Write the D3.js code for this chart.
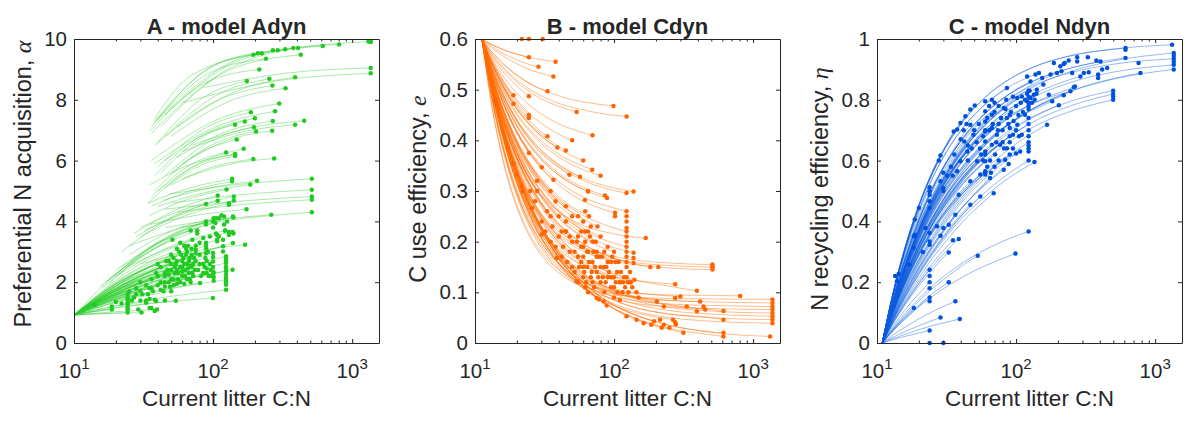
<!DOCTYPE html>
<html>
<head>
<meta charset="utf-8">
<script src="https://cdn.jsdelivr.net/npm/d3@7/dist/d3.min.js"></script>
<style>
  body { margin: 0; background: #fff; }
  svg text { font-family: "Liberation Sans", Arial, Helvetica, sans-serif; fill: #262626; }
</style>
</head>
<body>
<svg id="chart" width="1200" height="425"></svg>
<script>
// ---- shared axis values ----
const xDomain = [10, 1560];
const xTickValues = [10, 100, 1000];
const xTickExponents = ['1', '2', '3'];
const xMinorTicks = [20, 30, 40, 50, 60, 70, 80, 90, 200, 300, 400, 500, 600, 700, 800, 900];

const titles = ['A - model Adyn', 'B - model Cdyn', 'C - model Ndyn'];
const yLabels = [['Preferential N acquisition, ', 'α'], ['C use efficiency, ', 'e'], ['N recycling efficiency, ', 'η']];

const adynYTicks = [0, 2, 4, 6, 8, 10];
const cdynYTicks = [0, 0.1, 0.2, 0.3, 0.4, 0.5, 0.6];
const ndynYTicks = [0, 0.2, 0.4, 0.6, 0.8, 1];

// ---- panel A: trajectories [x, alpha] (initial C:N -> current C:N) ----
const adynCurves = [
  [[37.7,7.35],[57.9,8.5],[100,9.15],[195,9.48],[400,9.72],[1360,9.92]],
  [[38,7.25],[95.5,8.9],[240,9.35]],
  [[35,6.96],[86.7,8.55],[215,9.0]],
  [[42,7.1],[134,9.0],[427,9.48]],
  [[38,7.3],[105,9.16],[292,9.63]],
  [[40,7.35],[180,9.45],[806,9.82]],
  [[45,7.5],[166,9.35],[615,9.77]],
  [[36,7.1],[87,8.95],[210,9.53]],
  [[85,8.4],[340,8.88],[1360,9.05]],
  [[60,7.9],[286,8.62],[1360,8.87]],
  [[40,6.6],[83.7,8.05],[175,8.62]],
  [[45,6.8],[107,8.16],[254,8.69]],
  [[55,7.1],[146,8.28],[389,8.74]],
  [[38,6.5],[100.7,7.92],[267,8.47]],
  [[50,6.8],[129,7.94],[332,8.38]],
  [[36,6.9],[116.5,8.9],[377,9.7]],
  [[36,6.0],[104,7.32],[299,7.88]],
  [[38,5.9],[103,7.1],[279,7.62]],
  [[40,5.8],[86.5,7.05],[187,7.59]],
  [[45,6.0],[95,6.97],[200,7.39]],
  [[42,5.6],[84,6.78],[169,7.29]],
  [[38,5.5],[74,6.68],[144,7.18]],
  [[55,6.1],[121.6,6.94],[269,7.3]],
  [[60,6.3],[153,6.92],[389,7.18]],
  [[70,6.5],[178,7.07],[452,7.31]],
  [[45,5.5],[94,6.62],[197,7.1]],
  [[50,5.6],[101,6.55],[204,6.96]],
  [[60,5.9],[126,6.66],[266,6.98]],
  [[38,5.0],[75,6.18],[148,6.69]],
  [[34,4.6],[75,5.85],[166,6.39]],
  [[36,4.8],[66.8,5.83],[124,6.27]],
  [[40,5.0],[75.9,5.85],[144,6.22]],
  [[45,5.1],[80.5,5.83],[144,6.15]],
  [[50,5.2],[98.7,5.79],[195,6.05]],
  [[60,5.4],[128,5.87],[275,6.07]],
  [[35,5.2],[71,5.9],[144,6.2]],
  [[34,4.6],[68,5.1],[137,5.4]],
  [[36,4.5],[70,5.01],[137,5.32]],
  [[44,4.7],[95,5.1],[207,5.34]],
  [[40,4.5],[86,4.94],[185,5.21]],
  [[48,4.9],[157,5.22],[513,5.4]],
  [[35,4.2],[66,4.73],[125,5.05]],
  [[50,4.6],[160,4.88],[513,5.04]],
  [[45,4.4],[152,4.66],[513,4.82]],
  [[55,4.3],[168,4.56],[513,4.71]],
  [[30,3.8],[65,4.43],[141,4.82]],
  [[32,3.7],[67,4.31],[141,4.69]],
  [[27,3.6],[54,4.38],[108,4.85]],
  [[28,3.5],[55,4.23],[108,4.68]],
  [[35,3.9],[78,4.21],[174,4.4]],
  [[45,3.8],[109,4.06],[262,4.22]],
  [[58,3.8],[172,4.11],[513,4.3]],
  [[22,3.0],[44,3.97],[89,4.57]],
  [[25,3.2],[59,3.78],[140,4.13]],
  [[30,3.5],[62,4.18],[130,4.6]],
  [[15.4,1.86],[43,3.35],[120,4.16]],
  [[17,2.0],[48.6,3.4],[139,4.16]],
  [[20,2.4],[45.6,3.41],[104,3.95]],
  [[18,2.1],[40,3.3],[89,4.0]],
  [[22,2.5],[49,3.54],[110,4.1]],
  [[25,2.9],[50,3.68],[101,4.1]],
  [[20,2.2],[49,3.17],[122,3.7]],
  [[24,2.5],[57.5,3.25],[138,3.65]],
  [[16,1.8],[35,3.0],[77,3.7]],
  [[18,1.95],[35,3.1],[69,3.7]],
  [[30,2.6],[71,3.01],[170,3.23]],
  [[10,0.92],[35.2,2.12],[124,2.85]],
  [[10,0.92],[35.2,1.98],[124,2.63]],
  [[10,0.92],[35.2,1.81],[124,2.36]],
  [[10,0.92],[35.2,1.64],[124,2.08]],
  [[10,0.92],[35.2,1.43],[124,1.75]],
  [[10,0.92],[31.6,2.18],[100,2.96]],
  [[10,0.92],[31.6,2.01],[100,2.68]],
  [[10,0.92],[29.8,2.33],[89,3.2]],
  [[10,0.92],[34.4,2.32],[118,3.18]],
  [[10,0.92],[37.3,2.39],[139,3.29]],
  [[10,0.92],[32.7,2.46],[107,3.4]],
  [[10,0.92],[27.4,2.25],[75,3.07]],
  [[10,0.92],[22.6,2.46],[51,3.4]],
  [[10,0.92],[37.1,1.84],[138,2.41]],
  [[10,0.92],[31.8,1.78],[101,2.3]],
  [[10,0.92],[28.4,1.57],[80.6,1.97]],
  [[10,0.92],[31.6,1.27],[99.6,1.48]],
  [[10,0.92],[23.2,1.21],[54,1.39]],
  [[10,0.92],[11.9,1.13],[14.1,1.26]],
  [[10,0.92],[13.7,1.03],[18.7,1.1]],
  [[10,0.92],[15.6,0.97],[24.3,1.0]],
  [[10,0.92],[15.6,1.34],[24.3,1.6]],
  [[10,0.92],[17.5,0.97],[30.6,1.0]],
  [[10,0.92],[19.9,1.03],[39.5,1.1]],
  [[10,0.92],[24.5,2.02],[60,2.7]],
  [[10,0.92],[26.5,1.9],[70,2.5]],
  [[10,0.92],[21.2,1.71],[45,2.2]],
  [[10,0.92],[18.7,1.47],[35,1.8]],
  [[10,0.92],[16.7,1.34],[28,1.6]],
  [[10,0.92],[25.5,2.21],[65,3.0]],
  [[10,0.92],[20,1.96],[40,2.6]],
  [[10,0.92],[17.3,1.59],[30,2.0]],
  [[10,0.92],[23.5,1.84],[55,2.4]],
  [[10,0.92],[30,1.78],[90,2.3]],
  [[10,0.92],[22.4,1.4],[50,1.7]],
  [[10,0.92],[18.2,1.19],[33,1.35]],
  [[10,0.92],[15.8,1.4],[25,1.7]],
  [[10,0.92],[16.7,1.47],[28,1.8]],
  [[10,0.92],[17.6,1.34],[31,1.6]],
  [[10,0.92],[18.2,1.53],[33,1.9]],
  [[10,0.92],[19,1.65],[36,2.1]],
  [[10,0.92],[19.2,1.4],[37,1.7]],
  [[10,0.92],[19.7,1.78],[39,2.3]],
  [[10,0.92],[20.5,1.9],[42,2.5]],
  [[10,0.92],[21.2,1.78],[45,2.3]],
  [[10,0.92],[21.4,2.02],[46,2.7]],
  [[10,0.92],[21.9,1.59],[48,2.0]],
  [[10,0.92],[22.4,1.84],[50,2.4]],
  [[10,0.92],[22.8,2.09],[52,2.8]],
  [[10,0.92],[23.2,1.96],[54,2.6]],
  [[10,0.92],[23.7,1.78],[56,2.3]],
  [[10,0.92],[23.9,2.21],[57,3.0]],
  [[10,0.92],[24.5,1.71],[60,2.2]],
  [[10,0.92],[24.7,2.09],[61,2.8]],
  [[10,0.92],[25.1,1.84],[63,2.4]],
  [[10,0.92],[25.5,1.96],[65,2.6]],
  [[10,0.92],[25.9,1.78],[67,2.3]],
  [[10,0.92],[26.1,2.09],[68,2.8]],
  [[10,0.92],[26.8,1.71],[72,2.2]],
  [[10,0.92],[27.4,2.02],[75,2.7]],
  [[10,0.92],[27.9,1.84],[78,2.4]],
  [[10,0.92],[28.3,2.15],[80,2.9]],
  [[10,0.92],[29.2,1.96],[85,2.6]],
  [[10,0.92],[29.7,2.09],[88,2.8]],
  [[10,0.92],[30.3,2.21],[92,3.0]],
  [[10,0.92],[30.8,1.96],[95,2.6]],
  [[10,0.92],[25.7,2.33],[66,3.2]],
  [[10,0.92],[26.6,2.46],[71,3.4]]
];
const adynDots = [
  [1310,9.92],[195,9.48],[224,9.53],[269,9.63],[330,9.66],[408,9.7],[1360,9.9],[130,4.55],
  [24.3,1.15],[24.3,1.3],[24.3,1.45],[27,1.5],[30,1.4],[33,1.32],[35,1.45],[38,1.42],[40,1.9],
  [42,2.0],[44,1.7],[49,1.85],[52,2.1],[55,1.95],[58,2.0],[60,2.5],[62,1.95],[65,2.1],[69,2.0],
  [82,2.2],[90,2.45],[35,1.15],[29,1.1],[38,1.05],[45,1.4],[100,2.83],[124,2.52],[124,2.25],[124,1.92],
  [89,3.1],[118,3.01],[75,2.96],[77,3.6],[89,3.9],[107,3.35],[122,3.7],[130,3.65],[101,2.17],[36,1.15],
  [33,1.4],[39,1.38],[105,4.1],[18.7,1.2],[20,1.35],[22,1.3],
  [45,2.0],[47,2.4],[50,2.6],[50,2.1],[53,2.3],[55,2.7],[56,2.1],[58,2.5],[59,2.9],[60,2.35],[62,2.6],
  [63,2.2],[64,2.9],[66,2.45],[67,2.7],[68,2.1],[69,2.55],[70,2.9],[71,2.3],[72,2.6],[73,2.8],[74,2.4],
  [45,1.85],[48,2.25],[52,1.9],[40,2.2],[42,1.75],[36,1.8],[34,1.6],[30,1.7],[26,1.4],[24.3,1.1],
  [24.3,1.25],[24.3,1.35],[24.3,1.5],[64,3.1],[62,3.2],[58,3.3],[55,3.1],[50,2.9],[48,2.7],[53,2.5],
  [80,2.6],[85,2.3],[87,2.5],[90,2.7],[93,2.2],[96,2.4],[98,2.2],[124,2.0],[124,2.15],[124,2.45],
  [124,2.7],[124,2.78],[100,2.5],[100,2.35],[101,2.05],[89,2.95],[89,3.3],[80,3.3],[85,3.45],[75,3.2],
  [70,3.1],[105,3.6],[100,3.8],[95,3.5],[110,3.5],[130,3.55],[140,3.6],[107,3.55],[118,3.4],[120,3.9],
  [126,4.0],[115,4.2],[100,4.0]
];

// ---- panel B: trajectories read at shared C:N grid [endX, endY, e at grid] ----
const cdynOrigin = [11.2, 0.6];
const cdynGridX = [13, 16, 20, 25, 32, 42, 60, 90, 130, 250, 500];
const cdynCurves = [
  [30.7,.6,[.6,.6,.6,.6]],
  [1324,.013,[.518,.422,.34,.274,.215,.166,.119,.081,.059,.035,.021]],
  [612,.013,[.517,.421,.337,.27,.211,.162,.114,.076,.054,.029,.016]],
  [612,.02,[.518,.423,.34,.274,.216,.167,.12,.082,.06,.035,.022]],
  [315,.02,[.517,.42,.336,.269,.21,.16,.112,.075,.052,.027]],
  [123,.053,[.517,.42,.336,.269,.21,.16,.112,.075]],
  [220,.03,[.517,.42,.336,.269,.21,.16,.112,.075,.052]],
  [1377,.039,[.507,.404,.317,.251,.196,.151,.112,.083,.066,.05,.043]],
  [1377,.046,[.509,.407,.321,.256,.202,.158,.118,.09,.073,.057,.05]],
  [1377,.053,[.51,.409,.324,.26,.207,.164,.125,.096,.08,.064,.057]],
  [1377,.059,[.511,.411,.327,.264,.211,.168,.13,.102,.086,.07,.063]],
  [1377,.066,[.493,.378,.29,.226,.176,.14,.109,.09,.08,.071,.068]],
  [1377,.072,[.494,.381,.293,.23,.181,.145,.115,.095,.085,.077,.074]],
  [1377,.079,[.496,.384,.297,.235,.187,.151,.121,.102,.092,.084,.081]],
  [1377,.086,[.479,.356,.267,.207,.164,.134,.111,.098,.092,.088,.087]],
  [806,.093,[.481,.36,.272,.212,.17,.14,.118,.105,.099,.095,.094]],
  [510,.15,[.51,.413,.338,.284,.242,.211,.186,.169,.16,.153,.15]],
  [510,.155,[.511,.415,.341,.288,.246,.216,.19,.174,.165,.158,.155]],
  [510,.145,[.509,.411,.335,.281,.238,.207,.181,.164,.156,.148,.145]],
  [394,.103,[.518,.426,.349,.29,.242,.203,.167,.141,.127,.112]],
  [612,.063,[.512,.412,.329,.266,.214,.171,.133,.105,.09,.074,.066]],
  [612,.046,[.509,.407,.321,.256,.202,.158,.118,.09,.073,.057,.05]],
  [275,.116,[.503,.398,.317,.259,.214,.18,.152,.134,.125,.117]],
  [452,.066,[.512,.413,.33,.267,.215,.172,.135,.107,.091,.076]],
  [203,.082,[.512,.414,.331,.268,.217,.175,.137,.109,.094]],
  [169,.207,[.52,.434,.368,.32,.283,.255,.232,.218,.21]],
  [123,.16,[.523,.438,.366,.312,.266,.229,.196,.172]],
  [123,.19,[.529,.449,.382,.331,.289,.254,.223,.201]],
  [123,.22,[.534,.46,.398,.351,.312,.28,.252,.231]],
  [123,.26,[.541,.475,.419,.377,.342,.314,.288,.27]],
  [138,.299,[.548,.49,.441,.404,.373,.348,.325,.309,.3]],
  [123,.296,[.547,.488,.438,.4,.369,.344,.321,.304]],
  [99,.468,[.577,.55,.528,.511,.498,.486,.476,.469]],
  [123,.447,[.573,.544,.519,.5,.484,.471,.46,.451]],
  [53.8,.456,[.572,.541,.515,.495,.478,.465]],
  [38,.555,[.59,.579,.57,.563,.558]],
  [36.6,.526,[.584,.566,.551,.539,.53]],
  [28.6,.545,[.587,.571,.559,.549]],
  [24.4,.564,[.59,.579,.57]],
  [33.2,.497,[.577,.551,.529,.512,.498]],
  [24.4,.487,[.569,.535,.507]],
  [18.9,.489,[.562,.518]],
  [18.9,.472,[.556,.506]],
  [24.4,.45,[.559,.514,.476]],
  [33.2,.408,[.557,.508,.467,.437,.411]],
  [39.1,.386,[.555,.504,.461,.429,.402]],
  [69.6,.342,[.552,.499,.454,.42,.392,.369,.349]],
  [56.9,.328,[.548,.49,.441,.404,.373,.348]],
  [47.7,.332,[.547,.487,.437,.399,.367,.342]],
  [65,.299,[.544,.481,.428,.388,.354,.327,.303]],
  [89,.286,[.544,.481,.428,.388,.354,.327,.303]],
  [101.6,.257,[.539,.472,.415,.372,.336,.307,.28,.261]],
  [182,.15,[.524,.438,.366,.312,.266,.23,.196,.172,.159]],
  [138,.178,[.527,.445,.377,.325,.282,.247,.216,.192,.18]],
  [88.5,.074,[.517,.42,.336,.269,.21,.16,.112]],
  [300,.092,[.498,.388,.303,.242,.194,.159,.129,.11,.101,.093]],
  [194,.043,[.518,.423,.34,.274,.216,.167,.12,.082,.06]],
  [265,.046,[.507,.403,.315,.249,.194,.149,.109,.079,.063,.047]],
  [416,.082,[.496,.384,.297,.235,.187,.151,.121,.102,.092,.084]],
  [78,.086,[.507,.402,.314,.248,.193,.148,.107]],
  [70,.2,[.526,.443,.374,.321,.278,.242,.21]],
  [60,.15,[.515,.419,.339,.278,.228,.187]],
  [90,.13,[.516,.422,.343,.283,.233,.193,.157]],
  [45,.22,[.523,.437,.365,.31,.265,.228]],
  [35,.25,[.523,.436,.364,.309,.263]],
  [28,.3,[.526,.443,.374,.321]],
  [110,.12,[.516,.421,.342,.282,.233,.192,.156,.129]],
  [75,.17,[.521,.433,.36,.303,.257,.219,.185]],
  [50,.25,[.531,.454,.389,.34,.299,.266]],
  [100,.18,[.526,.442,.373,.32,.276,.24,.208,.184]],
  [130,.12,[.517,.424,.345,.286,.237,.197,.161,.135]],
  [40,.25,[.527,.444,.376,.323,.28]],
  [46,.16,[.512,.412,.329,.266,.214,.171]],
  [55,.12,[.508,.404,.317,.251,.196,.152]],
  [62,.22,[.528,.448,.381,.33,.288,.253,.222]],
  [66,.25,[.535,.462,.401,.354,.316,.284,.256]],
  [76,.23,[.533,.457,.394,.346,.306,.273,.244]],
  [85,.1,[.51,.409,.325,.261,.208,.164,.125]],
  [102,.16,[.522,.435,.363,.307,.261,.224,.19,.166]],
  [118,.13,[.518,.426,.349,.29,.242,.203,.167,.141]],
  [150,.09,[.512,.414,.332,.269,.218,.175,.138,.11,.094]],
  [27,.28,[.519,.429,.354,.296]],
  [22,.3,[.511,.412,.328]],
  [35,.3,[.534,.46,.398,.351,.311]],
  [38,.28,[.532,.455,.391,.342,.302]],
  [45,.27,[.533,.459,.396,.349,.309,.277]],
  [55,.25,[.533,.457,.394,.346,.306,.273]],
  [80,.21,[.529,.45,.384,.333,.291,.257,.227]],
  [86,.291,[.545,.482,.43,.391,.358,.331,.307]],
  [30.2,.347,[.54,.474,.418,.375]],
  [36.6,.322,[.54,.472,.416,.373,.337]],
  [24.4,.375,[.539,.471,.414]],
  [24.4,.444,[.558,.511,.471]],
  [45,.38,[.556,.506,.464,.432,.406,.385]],
  [60,.36,[.555,.504,.461,.429,.402,.38]],
  [80,.33,[.551,.496,.45,.416,.387,.363,.342]],
  [50,.4,[.561,.516,.48,.451,.428,.409]],
  [70,.41,[.565,.526,.493,.468,.447,.43,.415]]
];
const cdynDots = [
  [13.9,.478],[14.3,.47],[14.6,.465],[17.2,.386],[18.9,.355],[20,.332],[21.7,.309],[25.6,.266],[30.2,.214],
  [38.7,.168],[53.8,.122],[75,.089],[21.7,.6],[24.4,.6],
  [123,.25],[123,.227],[123,.21],[123,.2],[123,.17],[123,.18],[123,.24],[101.6,.25],[138,.168],[138,.158],
  [510,.151],[208,.15],[250,.03],[278,.037],[214,.046],[228,.036],[275,.041],[185,.036],[163,.039],
  [145,.046],[333,.072],[394,.0625],[440,.072],[228,.072],[275,.089],[84,.082],[30.2,.24],[32,.22],
  [33,.26],[35,.2],[36,.23],[38,.19],[40,.21],[42,.17],[43,.19],[45,.22],[48,.18],
  [50,.2],[50,.15],[52,.14],[55,.17],[58,.16],[60,.13],[60,.19],[62,.11],[64,.15],
  [65,.18],[68,.13],[70,.16],[72,.11],[75,.14],[80,.12],[82,.17],
  [88,.15],[90,.19],[95,.13],[100,.11],[105,.14],[110,.12],[115,.1],[125,.12],
  [130,.14],[135,.11],[140,.125],[145,.1],[110,.085],[100,.09],[65,.1],[25,.3],
  [28,.32],[68,.23],[61.7,.282],[65,.3],
  [52,.18],[54,.2],[56,.15],[58,.22],[60,.17],[61,.14],[62,.2],[63,.12],[64,.18],[66,.16],[67,.21],
  [69,.14],[70,.12],[71,.18],[73,.15],[74,.2],[77,.13],[78,.17],[80,.15],[83,.13],[85,.18],[87,.12],
  [90,.16],[92,.14],[95,.11],[97,.17],[100,.13],[103,.12],[106,.1],[108,.16],[112,.14],[116,.12],
  [120,.11],[123,.13],[123,.15],[127,.1],[132,.12],[60,.24],[65,.22],[62,.26],[45,.24],[48,.21],
  [42,.22],[55,.21],[58,.19],[75,.18],[85,.15],[95,.16]
];

// ---- panel C: trajectories read at shared C:N grid [endX, endY, eta at grid] ----
const ndynOrigin = [10.9, 0];
const ndynGridX = [13, 16, 20, 25, 32, 42, 60, 90, 130, 250, 500];
const ndynCurves = [
  [1324,.981,[.16,.315,.45,.558,.652,.732,.809,.869,.906,.946,.967]],
  [1361,.954,[.129,.258,.375,.472,.562,.643,.725,.794,.84,.894,.928]],
  [1361,.935,[.139,.277,.399,.498,.587,.666,.742,.805,.845,.89,.917]],
  [1361,.915,[.123,.248,.36,.453,.539,.617,.696,.762,.806,.858,.891]],
  [1361,.9,[.109,.22,.322,.411,.493,.569,.65,.72,.768,.828,.868]],
  [612,.97,[.16,.315,.45,.557,.651,.731,.808,.868,.905,.945,.966]],
  [612,.9375,[.142,.281,.405,.507,.597,.677,.755,.819,.859,.905,.932]],
  [784,.888,[.109,.221,.324,.412,.495,.571,.652,.722,.77,.83,.87]],
  [499,.83,[.109,.22,.322,.407,.488,.56,.634,.7,.743,.796]],
  [499,.8,[.1,.203,.297,.379,.454,.525,.599,.663,.708,.763]],
  [499,.819,[.103,.208,.304,.388,.466,.538,.613,.679,.725,.781]],
  [246,.828,[.13,.257,.371,.463,.546,.619,.691,.749,.786]],
  [203,.782,[.105,.212,.311,.396,.475,.549,.626,.693,.74]],
  [182,.795,[.117,.235,.342,.431,.512,.586,.661,.724,.765]],
  [167,.718,[.09,.184,.272,.349,.424,.495,.57,.64,.69]],
  [123,.83,[.148,.291,.415,.514,.6,.674,.745,.8]],
  [123,.78,[.12,.241,.351,.442,.526,.601,.678,.742]],
  [123,.72,[.103,.208,.305,.389,.466,.538,.614,.68]],
  [123,.66,[.087,.178,.263,.338,.41,.478,.552,.619]],
  [123,.6,[.076,.155,.231,.298,.364,.427,.496,.56]],
  [135.5,.595,[.074,.151,.225,.29,.354,.416,.482,.545,.59]],
  [100,.623,[.086,.174,.258,.332,.403,.47,.542,.608]],
  [88.5,.589,[.08,.164,.245,.315,.385,.451,.523]],
  [81.5,.57,[.082,.167,.248,.319,.387,.451,.52]],
  [65,.543,[.078,.161,.241,.312,.382,.451,.527]],
  [69,.493,[.07,.143,.214,.278,.34,.402,.469]],
  [55.3,.482,[.074,.152,.227,.295,.361,.426]],
  [46.9,.455,[.077,.157,.235,.302,.369,.433]],
  [36.6,.422,[.083,.169,.25,.321,.389]],
  [123,.367,[.048,.099,.146,.188,.228,.266,.307,.344]],
  [99,.294,[.039,.079,.119,.153,.187,.219,.254,.287]],
  [53,.287,[.045,.092,.138,.179,.218,.258]],
  [38.7,.342,[.065,.132,.196,.252,.306]],
  [35.2,.338,[.068,.138,.204,.262,.318]],
  [23.9,.334,[.095,.19,.276]],
  [23.9,.241,[.065,.132,.196]],
  [23.9,.2,[.054,.11,.162]],
  [23.9,.15,[.04,.082,.122]],
  [36.6,.137,[.026,.053,.079,.103,.126]],
  [39.4,.079,[.014,.029,.044,.057,.069]],
  [28.6,.084,[.019,.038,.057,.074]],
  [23.9,.041,[.011,.022,.033]],
  [18.4,.115,[.043,.088]],
  [32.8,.2,[.042,.085,.126,.162,.197]],
  [32.8,.298,[.062,.127,.188,.241,.294]],
  [21.4,.299,[.095,.19,.276]],
  [17.1,.258,[.112,.226]],
  [14.3,.227,[.16]],
  [18.7,.406,[.158,.311]],
  [20,.444,[.158,.311]],
  [27.8,.6,[.16,.315,.449,.557]],
  [35.6,.696,[.162,.319,.455,.564,.659]],
  [43.2,.746,[.162,.318,.454,.562,.657,.738]],
  [50.5,.781,[.161,.318,.453,.562,.656,.737]],
  [60,.7,[.124,.249,.362,.456,.543,.621]],
  [60,.62,[.104,.21,.308,.392,.471,.544]],
  [60,.56,[.088,.18,.267,.343,.417,.486]],
  [45,.65,[.126,.254,.368,.464,.552,.632]],
  [35,.55,[.115,.233,.341,.435,.522]],
  [30,.5,[.119,.239,.347,.437]],
  [90,.75,[.13,.258,.371,.464,.547,.62,.692]],
  [90,.68,[.106,.214,.313,.396,.474,.544,.616]],
  [75,.72,[.128,.255,.368,.46,.542,.614,.685]],
  [146,.888,[.156,.306,.437,.541,.633,.71,.785,.844,.879]],
  [127,.86,[.142,.282,.407,.508,.599,.679,.757,.821]],
  [290,.877,[.125,.25,.364,.458,.545,.624,.703,.77,.815,.868]],
  [405,.926,[.142,.281,.405,.507,.597,.677,.755,.819,.86,.905]],
  [86,.839,[.156,.307,.437,.542,.633,.711,.786]],
  [220,.815,[.113,.228,.333,.422,.505,.579,.657,.724,.769]],
  [60,.696,[.123,.248,.36,.453,.539,.617]],
  [60,.63,[.112,.224,.326,.411,.489,.559]],
  [60,.598,[.106,.213,.31,.39,.464,.531]],
  [67,.751,[.129,.26,.377,.475,.565,.647,.729]],
  [67,.652,[.112,.226,.328,.413,.491,.562,.633]],
  [72.8,.685,[.116,.232,.338,.425,.506,.579,.652]],
  [76.8,.652,[.109,.219,.318,.4,.476,.545,.614]],
  [81.5,.773,[.128,.256,.372,.469,.557,.638,.719]],
  [86,.74,[.121,.242,.352,.444,.528,.604,.681]],
  [95,.685,[.11,.22,.32,.404,.48,.549,.619,.678]],
  [102,.806,[.128,.257,.373,.469,.559,.639,.72,.789]],
  [110,.811,[.127,.255,.37,.467,.555,.635,.716,.784]],
  [107,.63,[.099,.199,.29,.365,.434,.496,.559,.613]],
  [116,.751,[.117,.235,.341,.429,.511,.584,.658,.721]],
  [134,.817,[.124,.25,.363,.457,.544,.622,.702,.769,.813]],
  [157,.85,[.127,.255,.371,.468,.556,.636,.717,.786,.831]],
  [197,.888,[.13,.261,.38,.478,.569,.651,.734,.804,.85]],
  [260,.841,[.121,.242,.352,.443,.527,.603,.679,.744,.787,.838]],
  [46.9,.718,[.138,.276,.401,.505,.601,.688]],
  [42.4,.663,[.132,.265,.385,.485,.577,.66]],
  [44.6,.63,[.123,.247,.359,.452,.538,.615]],
  [39.8,.598,[.122,.246,.357,.45,.535]],
  [37.7,.565,[.118,.238,.345,.435,.518]],
  [52.5,.598,[.11,.221,.321,.405,.482,.551]],
  [55.3,.554,[.101,.202,.293,.37,.44,.503]],
  [46.9,.532,[.102,.205,.297,.374,.445,.51]],
  [49.4,.685,[.129,.259,.376,.473,.563,.644]],
  [70.7,.62,[.105,.212,.308,.388,.461,.527,.594]],
  [90,.62,[.1,.202,.293,.369,.439,.502,.566]],
  [83.5,.603,[.099,.199,.289,.364,.433,.495,.558]],
  [38.7,.488,[.101,.203,.295,.372,.442]],
  [23.9,.512,[.152,.3,.428]],
  [23.9,.466,[.139,.273,.39]],
  [28.6,.532,[.139,.274,.391,.484]],
  [30,.51,[.121,.244,.354,.446]],
  [27,.384,[.098,.197,.286,.361]]
];
const ndynDots = [
  [1361,.945],[1361,.925],[612,.965],[760,.921],[389,.872],[389,.883],[307,.888],[333,.891],[452,.905],
  [416,.9],[378,.929],[328,.94],[275,.94],[275,.926],[239,.929],[224,.921],[187,.921],[208,.91],[220,.918],
  [253,.888],[177,.883],[154,.872],[120,.877],[138,.883],[265,.844],[172,.817],
  [499,.811],[123,.81],[123,.79],[123,.77],[123,.74],[123,.7],[123,.68],[123,.65],[123,.64],[123,.63],
  [60,.795],[60,.762],[60,.729],[60,.663],[60,.565],[60,.554],[67,.8],
  [67,.707],[90,.707],[120,.795],[127,.806],[110,.685],[102,.718],[86,.641],
  [23.9,.499],[23.9,.488],[23.9,.444],[22.3,.378],[23.9,.362],[18.7,.356],[18.4,.313],
  [141,.833],[212,.894],[13.9,.203],[18.4,.351],[28.6,.353],[30,.378],
  [32.8,.389],[23.9,.323],[23.9,.22],[23.9,.18],[23.9,.137],[23.9,0],[30,0],[37.7,.702],[39.8,.724],
  [46.9,.768],[28.6,.617],[13.5,.22],
  [45,.6],[48,.64],[50,.7],[52,.66],[54,.72],[56,.62],[58,.68],[62,.74],[64,.7],[65,.6],[68,.72],
  [70,.76],[72,.66],[74,.7],[78,.74],[80,.7],[82,.64],[84,.77],[88,.72],[92,.76],[96,.73],[100,.78],
  [104,.75],[108,.79],[112,.76],[116,.8],[120,.82],[125,.83],[130,.79],[136,.8],[140,.82],[55,.64],
  [58,.6],[62,.58],[66,.56],[70,.58],[75,.6],[80,.66],[90,.66],[95,.64],[100,.7],[105,.68],[64,.78],
  [70,.79],[75,.78],[85,.8],[95,.81],[36,.62],[40,.67],[42,.7],[44,.72],[34,.58],[32,.55],[30,.56]
];

// assemble grid-read trajectories into point lists
function gridCurves(origin, gridX, rows) {
  return rows.map(([ex, ey, ys]) => [origin, ...ys.map((v, i) => [gridX[i], v]), [ex, ey]]);
}

const panels = [
  { left: 74,  curves: adynCurves, dots: adynDots, yDomain: [0, 10], yTicks: adynYTicks,
    line: '#2ecc2e', lineOpacity: 0.4, dot: '#22c922', labelX: 43.5, labelY: 184 },
  { left: 475, curves: gridCurves(cdynOrigin, cdynGridX, cdynCurves), dots: cdynDots, yDomain: [0, 0.6],
    yTicks: cdynYTicks, line: '#ff6a00', lineOpacity: 0.44, dot: '#ff6400', labelX: 49, labelY: 189 },
  { left: 877, curves: gridCurves(ndynOrigin, ndynGridX, ndynCurves), dots: ndynDots, yDomain: [0, 1],
    yTicks: ndynYTicks, line: '#0a5ade', lineOpacity: 0.42, dot: '#0052dc', labelX: 49, labelY: 189 }
];

const plotTop = 39, W = 305, H = 304;
const tickLen = 4, minorLen = 2.5;
const axisColor = '#262626';
const svg = d3.select('#chart');

panels.forEach((p, i) => {
  const g = svg.append('g').attr('transform', `translate(${p.left},${plotTop})`);
  const x = d3.scaleLog().domain(xDomain).range([0, W]);
  const y = d3.scaleLinear().domain(p.yDomain).range([H, 0]);

  g.append('clipPath').attr('id', `clip${i}`)
    .append('rect').attr('width', W).attr('height', H);

  const line = d3.line()
      .x(d => x(d[0]))
      .y(d => y(d[1]))
      .curve(d3.curveMonotoneX);

  const plot = g.append('g').attr('clip-path', `url(#clip${i})`);
  plot.selectAll('.traj')
      .data(p.curves)
    .join('path')
      .attr('class', 'traj')
      .attr('d', line)
      .attr('fill', 'none')
      .attr('stroke', p.line)
      .attr('stroke-opacity', p.lineOpacity)
      .attr('stroke-width', 1);

  const allDots = p.curves.map(c => c[c.length - 1]).concat(p.dots);
  g.append('g').selectAll('circle')
      .data(allDots)
    .join('circle')
      .attr('cx', d => x(d[0]))
      .attr('cy', d => y(d[1]))
      .attr('r', 2.25)
      .attr('fill', p.dot);

  // axes: ticks point inward, mirrored on all four sides
  const styleAxis = sel => sel.attr('color', axisColor)
      .attr('font-family', '"Liberation Sans", Arial, sans-serif')
      .attr('font-size', 20.5);

  g.append('g').attr('transform', `translate(0,${H})`)
      .call(d3.axisBottom(x).tickValues(xTickValues).tickSize(-tickLen).tickSizeOuter(0).tickFormat(''))
      .call(styleAxis);
  g.append('g').attr('transform', `translate(0,${H})`)
      .call(d3.axisBottom(x).tickValues(xMinorTicks).tickSize(-minorLen).tickFormat(''))
      .call(s => s.select('.domain').remove());
  g.append('g')
      .call(d3.axisTop(x).tickValues(xTickValues).tickSize(-tickLen).tickSizeOuter(0).tickFormat(''))
      .call(styleAxis);
  g.append('g')
      .call(d3.axisTop(x).tickValues(xMinorTicks).tickSize(-minorLen).tickFormat(''))
      .call(s => s.select('.domain').remove());
  g.append('g')
      .call(d3.axisLeft(y).tickValues(p.yTicks).tickSize(-tickLen).tickSizeOuter(0).tickPadding(7).tickFormat(d => d))
      .call(styleAxis);
  g.append('g').attr('transform', `translate(${W},0)`)
      .call(d3.axisRight(y).tickValues(p.yTicks).tickSize(-tickLen).tickSizeOuter(0).tickFormat(''))
      .call(styleAxis);
  g.selectAll('.tick line, .domain').attr('stroke', axisColor);

  // log tick labels 10^n
  const xl = g.append('g').selectAll('text')
      .data(xTickValues)
    .join('text')
      .attr('x', d => x(d))
      .attr('y', H + 35)
      .attr('text-anchor', 'middle')
      .attr('font-size', 20.5);
  xl.append('tspan').text('10');
  xl.append('tspan').attr('dy', -9).attr('font-size', 15).text((d, j) => xTickExponents[j]);

  // title
  g.append('text')
      .attr('x', W / 2).attr('y', -5)
      .attr('text-anchor', 'middle')
      .attr('font-size', 22)
      .attr('font-weight', 'bold')
      .text(titles[i]);

  // x label
  g.append('text')
      .attr('x', W / 2).attr('y', 367)
      .attr('text-anchor', 'middle')
      .attr('font-size', 22.5)
      .text('Current litter C:N');

  // y label
  const yl = g.append('text')
      .attr('transform', `translate(${-p.labelX},${p.labelY - plotTop}) rotate(-90)`)
      .attr('text-anchor', 'middle')
      .attr('font-size', 23.5);
  yl.append('tspan').text(yLabels[i][0]);
  yl.append('tspan')
      .attr('font-family', '"Liberation Serif", "DejaVu Serif", serif')
      .attr('font-style', 'italic')
      .attr('font-size', 24)
      .text(yLabels[i][1]);
});
</script>
</body>
</html>
